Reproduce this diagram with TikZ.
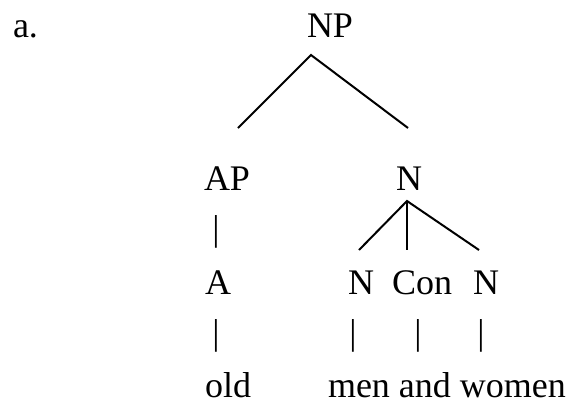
\documentclass[tikz,border=0pt]{standalone}
\usepackage{fontspec}
\setmainfont{Liberation Serif}
\begin{document}
\begin{tikzpicture}[x=1pt,y=-1pt,
  lbl/.style={anchor=base west,inner sep=0pt,outer sep=0pt,font=\fontsize{36}{40}\selectfont},
  bar/.style={anchor=base,inner sep=0pt,outer sep=0pt,font=\fontsize{36}{40}\selectfont},
  edge/.style={draw=black,line width=2pt}]
\useasboundingbox[fill=white] (0,0) rectangle (577,405);
% labels
\node[lbl] (a) at (13,37) {a.};
\node[lbl] (np) at (307,37) {NP};
\node[lbl] (ap) at (204,190) {AP};
\node[lbl] (n1) at (396,190) {N};
\node[bar] (b1) at (216,240) {|};
\node[lbl] (aa) at (205,294) {A};
\node[lbl] (n2) at (348,294) {N};
\node[lbl] (con) at (392,294) {Con};
\node[lbl] (n3) at (473,294) {N};
\node[bar] (b2) at (216,344) {|};
\node[bar] (b3) at (353,344) {|};
\node[bar] (b4) at (418,344) {|};
\node[bar] (b5) at (481,344) {|};
\node[lbl] (old) at (205,397) {old};
\node[lbl] (mw) at (328,397) {men and women};
% branch points
\coordinate (npT) at (311,55);
\coordinate (apT) at (238,128);
\coordinate (n1T) at (408,128);
\coordinate (n1B) at (407,201);
\coordinate (n2T) at (359,250);
\coordinate (conT) at (407,250);
\coordinate (n3T) at (479,250);
\draw[edge] (apT) -- (npT) -- (n1T);
\draw[edge] (n2T) -- (n1B) -- (n3T);
\draw[edge] (n1B) -- (conT);
\end{tikzpicture}
\end{document}
